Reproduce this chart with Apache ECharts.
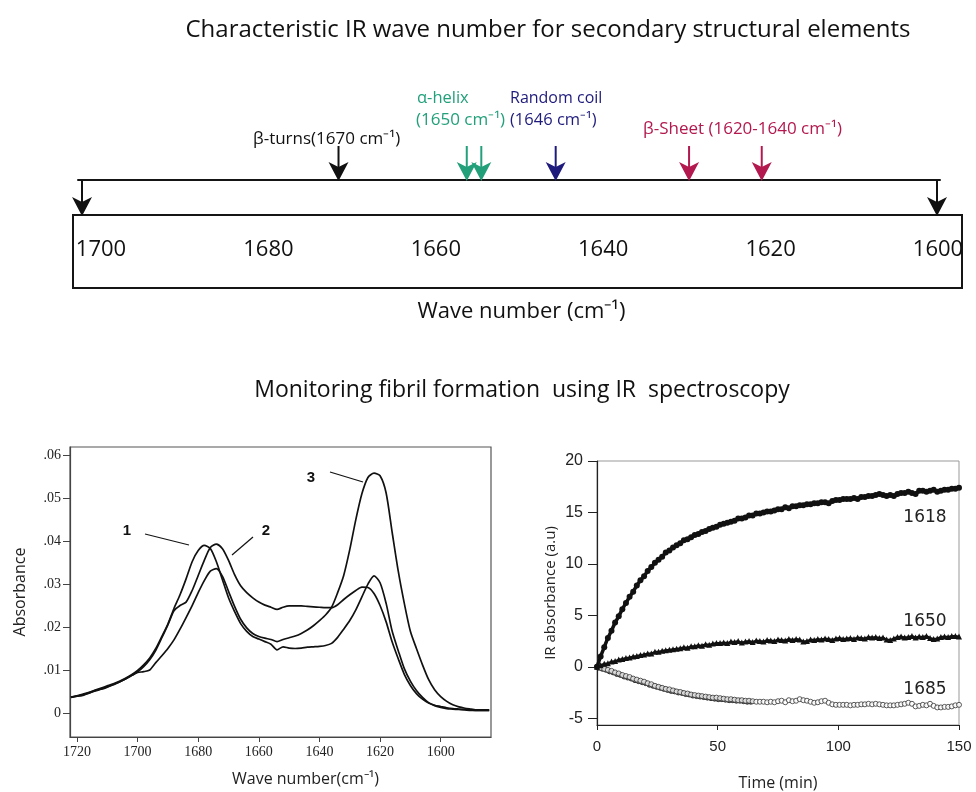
<!DOCTYPE html>
<html><head><meta charset="utf-8">
<script src="https://cdn.jsdelivr.net/npm/echarts@6/dist/echarts.min.js"></script>
<style>html,body{margin:0;padding:0;background:#fff}#c{width:976px;height:792px}</style>
</head><body><div id="c"></div>
<script>
// ---------- Top panel: characteristic IR wave numbers ----------
const scaleTicks = [1700, 1680, 1660, 1640, 1620, 1600];
const bandWaveNumbers = [1670, 1655, 1653.3, 1644.6, 1629, 1620.5];
const bandGroups = [0, 1, 1, 2, 3, 3];          // 0 beta-turn, 1 alpha-helix, 2 random coil, 3 beta-sheet
const endWaveNumbers = [1700, 1600];

// ---------- Bottom-left: IR spectra ----------
const specWaveNumber = [1722,1720,1718,1716,1714,1712,1710,1708,1706,1704,1702,1700,1698,1696,1694,1692,1690,1688,1686,1684,1682,1680,1678,1676,1674,1672,1670,1668,1666,1664,1662,1660,1658,1656,1654,1652,1650,1648,1646,1644,1642,1640,1638,1636,1634,1632,1630,1628,1626,1624,1622,1620,1618,1616,1614,1612,1610,1608,1606,1604,1602,1600,1598,1596,1594,1592,1590,1588,1586,1584];
const spectrum1 = [.0037,.0040,.0044,.0048,.0053,.0058,.0063,.0068,.0074,.0081,.0089,.0099,.0112,.0128,.0150,.0178,.0207,.0243,.0275,.0312,.0352,.0378,.0390,.0383,.0352,.0310,.0268,.0236,.0208,.0190,.0178,.0172,.0166,.0160,.0147,.0154,.0151,.0150,.0151,.0153,.0154,.0155,.0157,.0162,.0176,.0195,.0215,.0240,.0270,.0300,.0319,.0303,.0255,.0190,.0145,.0103,.0074,.0052,.0036,.0024,.0017,.0013,.0010,.0009,.0008,.0007,.0006,.0006,.0006,.0006];
const spectrum2 = [.0036,.0039,.0042,.0047,.0052,.0056,.0061,.0066,.0072,.0079,.0087,.0096,.0108,.0124,.0146,.0175,.0205,.0238,.0250,.0258,.0285,.0320,.0355,.0385,.0393,.0382,.0355,.0322,.0296,.0280,.0268,.0258,.0251,.0246,.0241,.0246,.0249,.0249,.0249,.0248,.0247,.0246,.0245,.0245,.0252,.0264,.0275,.0285,.0293,.0292,.0278,.0250,.0212,.0165,.0126,.0090,.0064,.0045,.0032,.0023,.0018,.0015,.0012,.0010,.0009,.0008,.0007,.0006,.0006,.0006];
const spectrum3 = [.0037,.0039,.0041,.0046,.0051,.0055,.0060,.0066,.0072,.0079,.0087,.0094,.0096,.0100,.0117,.0133,.0150,.0170,.0195,.0222,.0250,.0280,.0308,.0330,.0336,.0318,.0283,.0248,.0218,.0198,.0185,.0178,.0174,.0171,.0166,.0171,.0175,.0179,.0185,.0193,.0203,.0215,.0228,.0246,.0280,.0320,.0380,.0450,.0510,.0548,.0558,.0552,.0512,.0420,.0330,.0255,.0190,.0150,.0112,.0078,.0054,.0038,.0027,.0019,.0014,.0011,.0009,.0007,.0007,.0007];
const specXTicks = [1720, 1700, 1680, 1660, 1640, 1620, 1600];
const specYTicks = [0, 0.01, 0.02, 0.03, 0.04, 0.05, 0.06];
const specYLabels = ['0', '.01', '.02', '.03', '.04', '.05', '.06'];

// ---------- Bottom-right: kinetics ----------
const timeMin = [0,1.5,3,4.5,6,7.5,9,10.5,12,13.5,15,16.5,18,19.5,21,22.5,24,25.5,27,28.5,30,31.5,33,34.5,36,37.5,39,40.5,42,43.5,45,46.5,48,49.5,51,52.5,54,55.5,57,58.5,60,61.5,63,64.5,66,67.5,69,70.5,72,73.5,75,76.5,78,79.5,81,82.5,84,85.5,87,88.5,90,91.5,93,94.5,96,97.5,99,100.5,102,103.5,105,106.5,108,109.5,111,112.5,114,115.5,117,118.5,120,121.5,123,124.5,126,127.5,129,130.5,132,133.5,135,136.5,138,139.5,141,142.5,144,145.5,147,148.5,150];
const ir1618 = [0,1.0,1.9,2.8,3.5,4.3,4.9,5.6,6.2,6.8,7.3,7.9,8.4,8.8,9.3,9.7,10.1,10.4,10.7,11.1,11.3,11.6,11.8,12.0,12.3,12.4,12.6,12.8,12.9,13.1,13.2,13.4,13.5,13.6,13.8,13.9,14.0,14.1,14.2,14.4,14.4,14.5,14.7,14.7,14.9,14.9,15.0,15.1,15.1,15.2,15.3,15.3,15.5,15.4,15.6,15.6,15.7,15.7,15.8,15.8,15.9,15.9,16.0,16.0,15.9,16.1,16.2,16.2,16.3,16.3,16.3,16.4,16.3,16.5,16.5,16.6,16.6,16.7,16.8,16.7,16.6,16.7,16.6,16.8,16.9,16.9,17.0,16.9,16.8,17.1,17.1,17.0,17.1,17.2,17.0,17.1,17.2,17.2,17.3,17.3,17.4];
const ir1650 = [0,0.15,0.3,0.35,0.5,0.55,0.7,0.75,0.85,0.9,1.0,1.05,1.15,1.2,1.3,1.3,1.45,1.45,1.55,1.6,1.65,1.7,1.75,1.8,1.9,1.85,2.0,2.0,2.1,2.05,2.2,2.15,2.25,2.3,2.3,2.35,2.3,2.45,2.4,2.5,2.35,2.45,2.5,2.4,2.55,2.5,2.45,2.6,2.55,2.5,2.65,2.6,2.55,2.7,2.6,2.7,2.65,2.45,2.5,2.65,2.6,2.7,2.65,2.75,2.7,2.6,2.75,2.8,2.7,2.75,2.8,2.7,2.85,2.8,2.75,2.9,2.85,2.9,2.8,2.85,2.65,2.6,2.75,2.9,2.95,2.85,2.9,3.0,2.85,2.95,2.9,3.0,2.8,2.7,2.75,2.9,2.95,2.9,3.0,3.0,2.95];
const ir1685 = [0,-0.1,-0.2,-0.3,-0.4,-0.55,-0.65,-0.8,-0.9,-1.0,-1.15,-1.25,-1.35,-1.45,-1.6,-1.7,-1.85,-1.95,-2.05,-2.15,-2.2,-2.3,-2.4,-2.45,-2.55,-2.6,-2.7,-2.75,-2.8,-2.85,-2.9,-2.95,-3.0,-3.0,-3.05,-3.1,-3.15,-3.15,-3.2,-3.25,-3.25,-3.3,-3.3,-3.35,-3.4,-3.4,-3.4,-3.45,-3.4,-3.45,-3.35,-3.3,-3.45,-3.25,-3.35,-3.3,-3.15,-3.25,-3.3,-3.4,-3.5,-3.45,-3.35,-3.3,-3.5,-3.65,-3.7,-3.7,-3.7,-3.7,-3.75,-3.7,-3.7,-3.65,-3.65,-3.6,-3.65,-3.6,-3.65,-3.7,-3.75,-3.75,-3.75,-3.7,-3.65,-3.6,-3.5,-3.6,-3.85,-3.8,-3.7,-3.75,-3.6,-3.8,-3.95,-3.95,-3.9,-3.9,-3.85,-3.75,-3.7];
const timeRun2 = [0.75,2.25,3.75,5.25,6.75,8.25,9.75,11.25,12.75,14.25,15.75,17.25,18.75,20.25,21.75,23.25,24.75,26.25,27.75,29.25,30.75,32.25,33.75,35.25,36.75,38.25,39.75,41.25,42.75,44.25,45.75,47.25,48.75,50.25,51.75,53.25,54.75,56.25,57.75,59.25,60.75,62.25,63.75];
const ir1685Run2 = [-0.1,-0.2,-0.3,-0.45,-0.55,-0.7,-0.8,-0.95,-1.05,-1.15,-1.3,-1.4,-1.5,-1.6,-1.75,-1.85,-1.95,-2.05,-2.15,-2.25,-2.35,-2.4,-2.5,-2.55,-2.65,-2.7,-2.8,-2.85,-2.9,-2.95,-3.0,-3.05,-3.1,-3.15,-3.15,-3.2,-3.25,-3.25,-3.3,-3.3,-3.35,-3.4,-3.4];
const kinXTicks = [0, 50, 100, 150];
const kinYTicks = [-5, 0, 5, 10, 15, 20];

// ---------- styles ----------
const SANS = '"Open Sans", sans-serif';
const groupColors = ['#111111', '#22a07a', '#1f1b7c', '#b3184f'];
const zip = (xs, ys) => xs.map((x, i) => [x, ys[i]]);

function arrowItem(params, api) {
  const x = api.coord([api.value(0), 0])[0];
  const cs = params.coordSys;
  const top = cs.y, bottom = cs.y + cs.height;
  const color = groupColors[api.value(1)];
  const hw = 10, hh = 18, notch = 5;
  return {
    type: 'group',
    children: [
      { type: 'line', shape: { x1: x, y1: top, x2: x, y2: bottom - hh + notch },
        style: { stroke: color, lineWidth: 2 } },
      { type: 'polygon', shape: { points: [[x, bottom + 1], [x - hw, bottom - hh], [x, bottom - hh + notch], [x + hw, bottom - hh]] },
        style: { fill: color } }
    ]
  };
}

const hiddenAxis = (grid, extra) => Object.assign({ type: 'value', gridIndex: grid, show: false }, extra || {});
const txt = (x, y, text, font, fill, align) => ({ type: 'text', x, y,
  style: { text, font, fill, align: align || 'left', verticalAlign: 'middle' } });

const chart = echarts.init(document.getElementById('c'), null, { renderer: 'canvas' });
const option = {
  backgroundColor: '#ffffff',
  animation: false,
  grid: [
    { left: 78, right: 36, top: 146, height: 34 },
    { left: 78, right: 36, top: 180, height: 35 },
    { left: 73, right: 14, top: 215, height: 73, show: true, borderColor: '#151515', borderWidth: 2 },
    { left: 101, right: 38, top: 215, height: 35 },
    { left: 70, right: 485, top: 447, bottom: 55, show: true, borderColor: '#555', borderWidth: 1.2 },
    { left: 597, right: 17, top: 461, bottom: 67, show: true, borderColor: '#999', borderWidth: 1 }
  ],
  xAxis: [
    { type: 'value', gridIndex: 0, min: 1599.65, max: 1700.47, inverse: true,
      axisLine: { show: true, onZero: false, lineStyle: { color: '#151515', width: 2 } },
      axisTick: { show: false }, axisLabel: { show: false }, splitLine: { show: false } },
    hiddenAxis(1, { min: 1599.65, max: 1700.47, inverse: true }),
    hiddenAxis(2, { min: 0, max: 1 }),
    { type: 'value', gridIndex: 3, min: 1600, max: 1700, interval: 20, inverse: true,
      axisLine: { show: false }, axisTick: { show: false }, splitLine: { show: false },
      axisLabel: { margin: 0, verticalAlign: 'middle', fontFamily: SANS, fontSize: 22, color: '#111',
        formatter: v => String(scaleTicks.find(t => t === v)) },
      name: 'Wave number (cm⁻¹)', nameLocation: 'middle', nameGap: 51,
      nameTextStyle: { fontFamily: SANS, fontSize: 22, color: '#111', padding: [0, 0, 0, 4] } },
    { type: 'value', gridIndex: 4, min: 1583.4, max: 1722.3, inverse: true,
      axisLine: { show: true, onZero: false, lineStyle: { color: '#444', width: 1.2 } },
      axisTick: { show: true, customValues: specXTicks, length: 5, lineStyle: { color: '#444' } },
      axisLabel: { customValues: specXTicks, margin: 8, fontFamily: '"Liberation Serif", serif', fontSize: 14, color: '#222',
        formatter: v => String(v) },
      splitLine: { show: false },
      name: 'Wave number(cm⁻¹)', nameLocation: 'middle', nameGap: 34,
      nameTextStyle: { fontFamily: SANS, fontSize: 16, color: '#222', padding: [0, 0, 0, 50] } },
    { type: 'value', gridIndex: 5, min: 0, max: 150, interval: 50,
      axisLine: { show: true, onZero: false, lineStyle: { color: '#222', width: 1.2 } },
      axisTick: { show: true, length: 5, lineStyle: { color: '#222' } },
      axisLabel: { margin: 14, fontFamily: '"Liberation Sans", sans-serif', fontSize: 15, color: '#222',
        formatter: v => String(kinXTicks.find(t => t === v)) },
      splitLine: { show: false },
      name: 'Time (min)', nameLocation: 'middle', nameGap: 50,
      nameTextStyle: { fontFamily: SANS, fontSize: 16, color: '#222' } }
  ],
  yAxis: [
    hiddenAxis(0, { min: 0, max: 1 }),
    hiddenAxis(1, { min: 0, max: 1 }),
    hiddenAxis(2, { min: 0, max: 1 }),
    hiddenAxis(3, { min: 0, max: 1 }),
    { type: 'value', gridIndex: 4, min: -0.0056, max: 0.0619,
      axisLine: { show: true, onZero: false, lineStyle: { color: '#444', width: 1.2 } },
      axisTick: { show: true, customValues: specYTicks, length: 7, lineStyle: { color: '#444' } },
      axisLabel: { customValues: specYTicks, margin: 9, fontFamily: '"Liberation Serif", serif', fontSize: 14, color: '#222',
        formatter: v => specYLabels[specYTicks.findIndex(t => Math.abs(t - v) < 1e-9)] },
      splitLine: { show: false },
      name: 'Absorbance', nameLocation: 'middle', nameGap: 42,
      nameTextStyle: { fontFamily: SANS, fontSize: 16, color: '#222' } },
    { type: 'value', gridIndex: 5, min: -5.66, max: 20,
      axisLine: { show: true, onZero: false, lineStyle: { color: '#222', width: 1.2 } },
      axisTick: { show: true, customValues: kinYTicks, length: 9, lineStyle: { color: '#222' } },
      axisLabel: { customValues: kinYTicks, margin: 14, fontFamily: '"Liberation Sans", sans-serif', fontSize: 16, color: '#222' },
      splitLine: { show: false },
      name: 'IR absorbance (a.u)', nameLocation: 'middle', nameGap: 39,
      nameTextStyle: { fontFamily: SANS, fontSize: 15, color: '#222' } }
  ],
  series: [
    { type: 'custom', name: 'bands', xAxisIndex: 0, yAxisIndex: 0, renderItem: arrowItem,
      data: bandWaveNumbers.map((w, i) => [w, bandGroups[i]]) },
    { type: 'custom', name: 'scale ends', xAxisIndex: 1, yAxisIndex: 1, renderItem: arrowItem,
      data: endWaveNumbers.map(w => [w, 0]) },
    { type: 'line', name: 'spectrum 1', xAxisIndex: 4, yAxisIndex: 4, data: zip(specWaveNumber, spectrum1),
      showSymbol: false, smooth: 0.25, lineStyle: { color: '#111', width: 1.7 } },
    { type: 'line', name: 'spectrum 2', xAxisIndex: 4, yAxisIndex: 4, data: zip(specWaveNumber, spectrum2),
      showSymbol: false, smooth: 0.25, lineStyle: { color: '#111', width: 1.7 } },
    { type: 'line', name: 'spectrum 3', xAxisIndex: 4, yAxisIndex: 4, data: zip(specWaveNumber, spectrum3),
      showSymbol: false, smooth: 0.25, lineStyle: { color: '#111', width: 1.7 } },
    { type: 'line', name: '1618', xAxisIndex: 5, yAxisIndex: 5, data: zip(timeMin, ir1618),
      symbol: 'circle', symbolSize: 6, showAllSymbol: true, itemStyle: { color: '#111' },
      lineStyle: { color: '#111', width: 3.5 } },
    { type: 'line', name: '1650', xAxisIndex: 5, yAxisIndex: 5, data: zip(timeMin, ir1650),
      symbol: 'triangle', symbolSize: 6, showAllSymbol: true, itemStyle: { color: '#111' },
      lineStyle: { color: '#111', width: 2 } },
    { type: 'scatter', name: '1685 run 2', xAxisIndex: 5, yAxisIndex: 5, data: zip(timeRun2, ir1685Run2),
      symbol: 'circle', symbolSize: 5, itemStyle: { color: '#444', borderColor: '#1a1a1a', borderWidth: 1 } },
    { type: 'scatter', name: '1685', xAxisIndex: 5, yAxisIndex: 5, data: zip(timeMin, ir1685),
      symbol: 'circle', symbolSize: 5, itemStyle: { color: '#fff', borderColor: '#333', borderWidth: 1 } }
  ],
  graphic: [
    txt(548, 30, 'Characteristic IR wave number for secondary structural elements', '24px "Open Sans", sans-serif', '#111', 'center'),
    txt(522, 390, 'Monitoring fibril formation  using IR  spectroscopy', '23px "Open Sans", sans-serif', '#111', 'center'),
    txt(253, 139, 'β-turns(1670 cm⁻¹)', '17px "Open Sans", sans-serif', groupColors[0]),
    txt(417, 98, 'α-helix', '16.5px "Open Sans", sans-serif', groupColors[1]),
    txt(416, 120, '(1650 cm⁻¹)', '17px "Open Sans", sans-serif', groupColors[1]),
    txt(510, 98, 'Random coil', '16px "Open Sans", sans-serif', groupColors[2]),
    txt(510, 120, '(1646 cm⁻¹)', '16.5px "Open Sans", sans-serif', groupColors[2]),
    txt(643, 129, 'β-Sheet (1620-1640 cm⁻¹)', '17px "Open Sans", sans-serif', groupColors[3]),
    // spectrum annotations
    txt(127, 531, '1', 'bold 15px "Liberation Sans", sans-serif', '#111', 'center'),
    { type: 'line', shape: { x1: 145, y1: 534, x2: 189, y2: 545 }, style: { stroke: '#111', lineWidth: 1.2 } },
    txt(266, 531, '2', 'bold 15px "Liberation Sans", sans-serif', '#111', 'center'),
    { type: 'line', shape: { x1: 253, y1: 537, x2: 232, y2: 555 }, style: { stroke: '#111', lineWidth: 1.2 } },
    txt(311, 478, '3', 'bold 15px "Liberation Sans", sans-serif', '#111', 'center'),
    { type: 'line', shape: { x1: 330, y1: 472, x2: 363, y2: 482 }, style: { stroke: '#111', lineWidth: 1.2 } },
    // kinetics labels
    txt(925, 518, '1618', '17px "DejaVu Sans", sans-serif', '#222', 'center'),
    txt(925, 622, '1650', '17px "DejaVu Sans", sans-serif', '#222', 'center'),
    txt(925, 690, '1685', '17px "DejaVu Sans", sans-serif', '#222', 'center')
  ]
};
chart.setOption(option);
</script>
</body></html>
